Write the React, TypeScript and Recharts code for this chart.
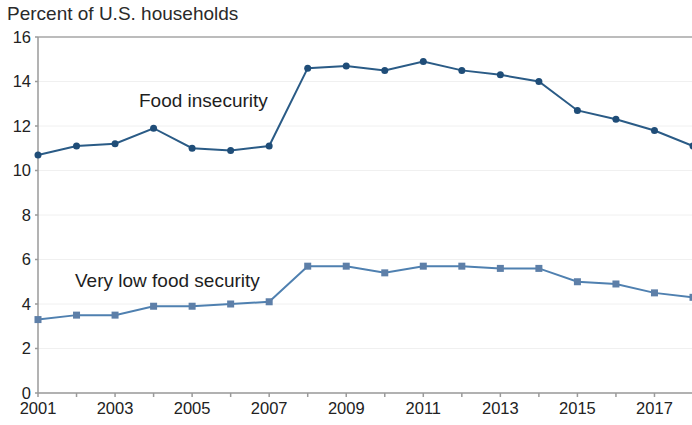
import { LineChart, Line, XAxis, YAxis, CartesianGrid, ReferenceLine } from 'recharts';

const years = [2001, 2002, 2003, 2004, 2005, 2006, 2007, 2008, 2009, 2010, 2011, 2012, 2013, 2014, 2015, 2016, 2017, 2018];
const foodInsecurity = [10.7, 11.1, 11.2, 11.9, 11.0, 10.9, 11.1, 14.6, 14.7, 14.5, 14.9, 14.5, 14.3, 14.0, 12.7, 12.3, 11.8, 11.1];
const veryLowFoodSecurity = [3.3, 3.5, 3.5, 3.9, 3.9, 4.0, 4.1, 5.7, 5.7, 5.4, 5.7, 5.7, 5.6, 5.6, 5.0, 4.9, 4.5, 4.3];
const yTicks = [0, 2, 4, 6, 8, 10, 12, 14, 16];

const data = years.map((year, i) => ({
  year,
  fi: foodInsecurity[i],
  vlfs: veryLowFoodSecurity[i],
}));

const FONT = '"Liberation Sans", Arial, Helvetica, sans-serif';
const FI_COLOR = '#2a5b86';
const VLFS_COLOR = '#4f80b0';

function SquareDot(props: any) {
  const { cx, cy, index } = props;
  if (cx == null || cy == null) return null;
  return <rect key={`sq-${index}`} x={cx - 3.5} y={cy - 3.5} width={7} height={7} fill="#5d7fa8" />;
}

function RoundDot(props: any) {
  const { cx, cy, index } = props;
  if (cx == null || cy == null) return null;
  return <circle key={`rd-${index}`} cx={cx} cy={cy} r={3.5} fill="#1f4d78" />;
}

export default function App() {
  return (
    <div
      style={{
        position: 'absolute',
        left: 0,
        top: 0,
        width: 692,
        height: 425,
        overflow: 'hidden',
        background: '#fff',
        fontFamily: FONT,
      }}
    >
      <div style={{ position: 'absolute', left: 7, top: 3, fontSize: 19, color: '#2a2a2a' }}>
        Percent of U.S. households
      </div>
      <div style={{ position: 'absolute', left: 139, top: 90, fontSize: 19, color: '#1e1e1e' }}>
        Food insecurity
      </div>
      <div style={{ position: 'absolute', left: 75, top: 270, fontSize: 19, color: '#1e1e1e' }}>
        Very low food security
      </div>
      <LineChart
        width={700}
        height={425}
        data={data}
        margin={{ top: 37, right: 7, bottom: 0, left: 8 }}
      >
        <CartesianGrid horizontal vertical={false} stroke="#f0f0f0" />
        <ReferenceLine y={16} stroke="#a8a8a8" strokeWidth={1.5} />
        <XAxis
          dataKey="year"
          type="number"
          domain={[2001, 2018]}
          ticks={years}
          interval={0}
          tickFormatter={(v: number) => (v % 2 === 1 ? String(v) : '')}
          stroke="#9a9a9a"
          strokeWidth={1.5}
          tickSize={4}
          tickMargin={5}
          height={32}
          tick={{ fill: '#222', fontSize: 16.5, fontFamily: FONT }}
        />
        <YAxis
          type="number"
          domain={[0, 16]}
          ticks={yTicks}
          interval={0}
          width={30}
          stroke="#9a9a9a"
          strokeWidth={1.5}
          tickSize={3}
          tickMargin={4}
          tick={{ fill: '#222', fontSize: 16.5, fontFamily: FONT }}
        />
        <Line
          type="linear"
          dataKey="fi"
          stroke={FI_COLOR}
          strokeWidth={2}
          dot={RoundDot}
          activeDot={false}
          isAnimationActive={false}
        />
        <Line
          type="linear"
          dataKey="vlfs"
          stroke={VLFS_COLOR}
          strokeWidth={2}
          dot={SquareDot}
          activeDot={false}
          isAnimationActive={false}
        />
      </LineChart>
    </div>
  );
}
